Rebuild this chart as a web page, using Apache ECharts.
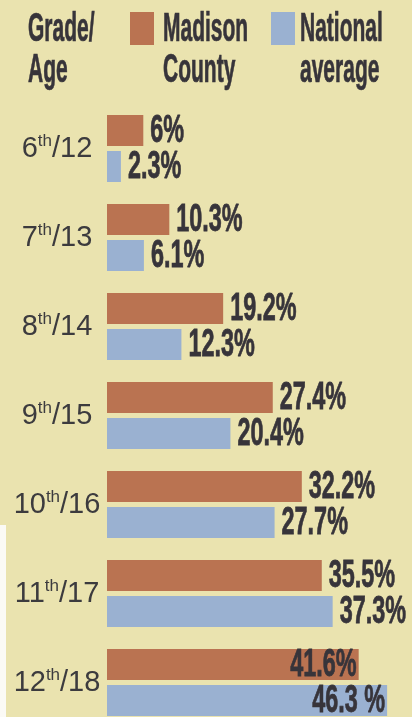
<!DOCTYPE html>
<html>
<head>
<meta charset="utf-8">
<script src="https://cdn.jsdelivr.net/npm/echarts@6/dist/echarts.min.js"></script>
<style>
html, body { margin: 0; padding: 0; background: #ebe4b1; }
#chart { width: 412px; height: 717px; }
</style>
</head>
<body>
<div id="chart"></div>
<script>
// data
const grades = ['6', '7', '8', '9', '10', '11', '12'];
const ages = ['12', '13', '14', '15', '16', '17', '18'];
const madison = [6, 10.3, 19.2, 27.4, 32.2, 35.5, 41.6];
const national = [2.3, 6.1, 12.3, 20.4, 27.7, 37.3, 46.3];
const madisonText = ['6%', '10.3%', '19.2%', '27.4%', '32.2%', '35.5%', '41.6%'];
const nationalText = ['2.3%', '6.1%', '12.3%', '20.4%', '27.7%', '37.3%', '46.3 %'];

const categories = grades.map((g, i) => g + 'th/' + ages[i]);

const BAR_W = 31;
const BAR_GAP = 5;
const INK = '#37343a';
const condensed = '"Liberation Sans", Arial, sans-serif';

const chart = echarts.init(document.getElementById('chart'));

// value labels, squeezed to look like the condensed newspaper type
function labelSeries(values, texts, side) {
    return {
        type: 'custom',
        silent: true,
        z: 5,
        data: values.map((v, i) => [v, i]),
        renderItem: function (params, api) {
            const i = api.value(1);
            const p = api.coord([api.value(0), i]);
            const y = p[1] + side * (BAR_W + BAR_GAP) / 2 + 1;
            const outside = p[0] + 7 + 70 < api.getWidth();
            return {
                type: 'text',
                x: outside ? p[0] + 7 : p[0] - 2,
                y: y,
                scaleX: 0.78,
                scaleY: 1.27,
                style: {
                    text: texts[i],
                    fontSize: 30,
                    fontWeight: 'bold',
                    fontFamily: condensed,
                    fill: INK,
                    stroke: INK,
                    lineWidth: 0.6,
                    align: outside ? 'left' : 'right',
                    verticalAlign: 'middle'
                }
            };
        }
    };
}

function headerText(x, text) {
    return {
        type: 'text',
        x: x,
        y: 9.7,
        scaleX: 0.75,
        scaleY: 1.45,
        style: {
            text: text,
            fontSize: 28,
            lineHeight: 28,
            fontWeight: 'bold',
            fontFamily: condensed,
            fill: INK,
            stroke: INK,
            lineWidth: 0.5,
            align: 'left',
            verticalAlign: 'top'
        }
    };
}

const legendBase = {
    top: 12,
    padding: 0,
    icon: 'rect',
    itemWidth: 24,
    itemHeight: 33,
    selectedMode: false,
    formatter: () => ''
};

const option = {
    backgroundColor: '#eae3af',
    animation: false,
    legend: [
        Object.assign({ data: ['Madison County'], left: 130 }, legendBase),
        Object.assign({ data: ['National average'], left: 271 }, legendBase)
    ],
    graphic: [
        headerText(28, 'Grade/\nAge'),
        headerText(163, 'Madison\nCounty'),
        headerText(300, 'National\naverage'),
        // white scanner edge at lower left
        { type: 'rect', shape: { x: 0, y: 525, width: 6, height: 192 }, style: { fill: '#fbfaf5' } }
    ],
    grid: {
        left: 107,
        width: 302.5,
        top: 104,
        height: 623,
        outerBoundsMode: 'none',
        containLabel: false
    },
    xAxis: {
        type: 'value',
        min: 0,
        max: 50,
        show: false
    },
    yAxis: {
        type: 'category',
        inverse: true,
        data: categories,
        axisLine: { show: false },
        axisTick: { show: false },
        axisLabel: {
            margin: 50,
            align: 'center',
            formatter: function (v) {
                const parts = v.split('th');
                return '{n|' + parts[0] + '}{s|th}{n|' + parts[1] + '}';
            },
            rich: {
                n: { fontSize: 29, lineHeight: 32, fontFamily: condensed, color: '#3c3b3e' },
                s: { fontSize: 17, lineHeight: 22, verticalAlign: 'top', fontFamily: condensed, color: '#3c3b3e' }
            }
        }
    },
    series: [
        {
            name: 'Madison County',
            type: 'bar',
            data: madison,
            barWidth: BAR_W,
            barGap: (BAR_GAP / BAR_W * 100) + '%',
            itemStyle: { color: '#ba7351' }
        },
        {
            name: 'National average',
            type: 'bar',
            data: national,
            barWidth: BAR_W,
            itemStyle: { color: '#9ab1d1' }
        },
        labelSeries(madison, madisonText, -1),
        labelSeries(national, nationalText, 1)
    ]
};

chart.setOption(option);
</script>
</body>
</html>
